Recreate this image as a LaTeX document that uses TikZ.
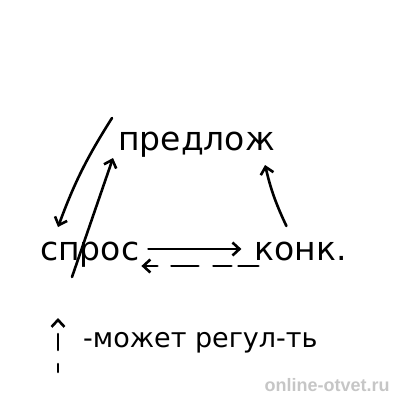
\documentclass[tikz,border=0pt]{standalone}
\usepackage{fontspec}
\setmainfont{DejaVu Sans}
\newfontfamily\sitefont{Liberation Sans}
\usetikzlibrary{arrows.meta,positioning,calc}
\tikzset{
  word/.style={inner sep=0pt,font=\fontsize{33}{38}\selectfont},
  note/.style={inner sep=0pt,font=\fontsize{27}{30}\selectfont},
  watermark/.style={inner sep=0pt,text=gray!45,font=\sitefont\bfseries\fontsize{18}{20}\selectfont},
  hand/.style={-{Straight Barb[length=7pt,width=13pt,line width=2.6pt]}, line width=2.6pt, line cap=round, line join=round},
  handdash/.style={hand, dash pattern=on 20pt off 7pt on 18pt off 15pt on 27pt off 14pt on 40pt}
}
\begin{document}
\begin{tikzpicture}[x=1pt,y=-1pt]
  \useasboundingbox (0,0) rectangle (404,400);
  \node[word, anchor=base west] (pred) at (118,150) {предлож};
  \node[word, anchor=base west] (spros) at (40,260) {спрос};
  \node[word, right=115pt of spros.base east, anchor=base west] (konk) {конк.};
  \draw[hand] ($(pred.base west)+(-6,-32)$) to[bend right=6] ($(spros.base west)+(18,-33)$);
  \draw[hand] ($(spros.base west)+(32,17)$) -- ($(pred.base west)+(-5,8)$);
  \draw[hand] ($(konk.base west)+(32,-34)$) to[bend left=6] ($(pred.base east)+(-10,15)$);
  \draw[hand] ($(spros.base east)+(9,-11)$) -- ($(konk.base west)+(-13,-11)$);
  \draw[handdash] ($(konk.base west)+(4,6)$) -- ($(spros.base east)+(2,6)$);
  \coordinate (legtail) at (58,372);
  \coordinate (legtip) at (58,318);
  \draw[hand, dash pattern=on 8pt off 14pt on 16pt off 20pt] (legtail) -- (legtip);
  \node[note, anchor=base west] (regul) at (83,347) {-может регул-ть};
  \node[watermark] (site) at (327,385) {online-otvet.ru};
\end{tikzpicture}
\end{document}
